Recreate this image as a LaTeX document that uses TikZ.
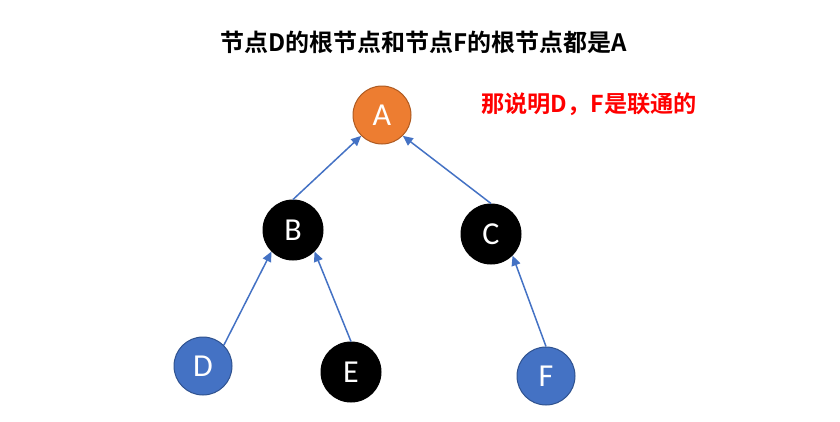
\documentclass[tikz,border=0pt]{standalone}
\usepackage{fontspec}
\setmainfont{Carlito}
\newfontfamily\cjk{Noto Sans CJK SC}[BoldFont={Noto Sans CJK SC Bold}]
\usetikzlibrary{arrows.meta}
\definecolor{aorange}{HTML}{ED7D31}
\definecolor{aorangeb}{HTML}{AE5A21}
\definecolor{nblue}{HTML}{4472C4}
\definecolor{nblueb}{HTML}{2F528F}
\tikzset{
  tnode/.style={circle, minimum size=58pt, inner sep=0pt, text=white, font=\fontsize{32}{32}\selectfont, line width=1pt},
  blacknode/.style={tnode, fill=black, draw=black},
  bluenode/.style={tnode, fill=nblue, draw=nblueb},
  orangenode/.style={tnode, fill=aorange, draw=aorangeb},
  link/.style={draw=nblue, line width=1.5pt, -{Triangle[length=10pt,width=9pt]}}
}
\begin{document}
\begin{tikzpicture}[x=1pt,y=-1pt]
\useasboundingbox (0,0) rectangle (840,421);
\node[font=\cjk\bfseries\fontsize{24}{24}\selectfont] (title) at (424,42) {节点D的根节点和节点F的根节点都是A};
\node[font=\cjk\bfseries\fontsize{23.2}{23.2}\selectfont, text={rgb,255:red,255;green,0;blue,0}] (note) at (589,104) {那说明D，F是联通的};
\node[orangenode] (A) at (382,115) {A};
\node[blacknode, minimum size=60pt] (B) at (293,230) {B};
\node[blacknode, minimum size=60pt] (C) at (491,234) {C};
\node[bluenode] (D) at (203,366) {D};
\node[blacknode, minimum size=60pt] (E) at (351,372) {E};
\node[bluenode] (F) at (546,376) {F};
\draw[link] (B.north) -- (A.south west);
\draw[link] (C.north) -- (A.south east);
\draw[link] (D.north east) -- (B.south west);
\draw[link] (E.north) -- (B.south east);
\draw[link] (F.north) -- (C.south east);
\end{tikzpicture}
\end{document}
